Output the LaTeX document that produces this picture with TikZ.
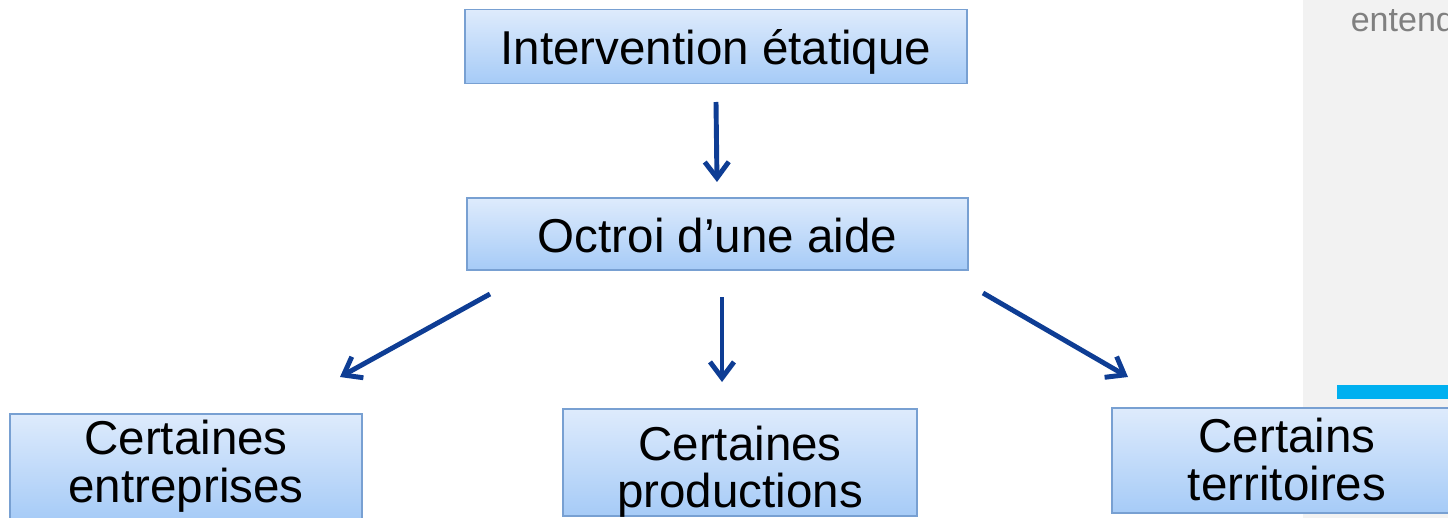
\documentclass[tikz,border=0pt]{standalone}
\usepackage{fontspec}
\setmainfont{Liberation Sans}
\usepackage{xcolor}
\usepackage{tikz}
\usetikzlibrary{arrows.meta, positioning}

\definecolor{boxline}{RGB}{120,160,210}
\definecolor{boxtop}{RGB}{222,235,252}
\definecolor{boxbot}{RGB}{166,203,247}
\definecolor{arrblue}{RGB}{14,61,148}
\definecolor{panelgrey}{RGB}{242,242,242}
\definecolor{barblue}{RGB}{0,176,240}

\begin{document}
\begin{tikzpicture}[x=0.025cm, y=-0.025cm,
  box/.style={draw=boxline, line width=1.4pt, top color=boxtop, bottom color=boxbot, inner sep=0pt, align=center, font=\fontsize{33.8}{29.9}\selectfont, text height=26pt, text depth=0pt},
  twoline/.style={box, text width=8cm, text height=24.7pt},
  arr/.style={draw=arrblue, line width=3.5pt, -{Straight Barb[length=0.4cm, width=0.6cm]}}]
\useasboundingbox (0,0) rectangle (1448,518);
% side panel
\fill[panelgrey] (1303,0) rectangle (1448,518);
\fill[barblue] (1337,385) rectangle (1448,399);
\node[anchor=base west, text=gray, font=\fontsize{24.2}{29}\selectfont, inner sep=0pt] (ent) at (1350.5,32) {entend};
% boxes
\node[box, minimum width=12.55cm, minimum height=1.85cm] (inter) at (716,46.5) {Intervention étatique};
\node[box, minimum width=12.525cm, minimum height=1.8cm] (octroi) at (717.5,234) {Octroi d’une aide};
\node[twoline, minimum width=8.8cm, minimum height=2.65cm, text depth=41.8pt] (entr) at (186,467) {Certaines\\[3.9pt]entreprises};
\node[twoline, minimum width=8.85cm, minimum height=2.675cm, text depth=28.2pt] (prod) at (740,462.5) {Certaines\\[3.9pt]productions};
\node[twoline, minimum width=8.75cm, minimum height=2.625cm, text depth=35.4pt] (terr) at (1287,460.5) {Certains\\[3.9pt]territoires};
% arrows
\coordinate (a1) at (716,102);
\coordinate (b1) at (717,182);
\coordinate (a2) at (490,294);
\coordinate (b2) at (340,377);
\coordinate (a3) at (722,297);
\coordinate (b3) at (722,382);
\coordinate (a4) at (983,293);
\coordinate (b4) at (1128,377);
\draw[arr] (a1) -- (b1);
\draw[arr] (a2) -- (b2);
\draw[arr] (a3) -- (b3);
\draw[arr] (a4) -- (b4);
\end{tikzpicture}
\end{document}
